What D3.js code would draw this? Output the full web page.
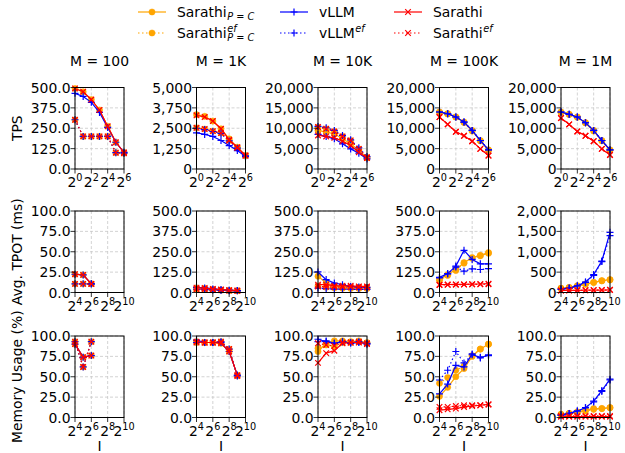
<!DOCTYPE html>
<html><head><meta charset="utf-8">
<script src="https://cdn.jsdelivr.net/npm/d3@7"></script>
<style>body{margin:0;background:#fff} text{font-family:"DejaVu Sans",sans-serif;fill:#000}</style>
</head><body><svg id="c" width="625" height="453"></svg>
<script>
// ---------------- DATA ----------------
const columns = ["M = 100", "M = 1K", "M = 10K", "M = 100K", "M = 1M"];
const rowLabels = ["TPS", "Avg. TPOT (ms)", "Memory Usage (%)"];
const xLabel = "I";
const tpsX = [1, 2, 4, 8, 16, 32, 64];
const lenX = [16, 32, 64, 128, 256, 512, 1024];
const tpsXTickExp = [0, 2, 4, 6];
const lenXTickExp = [4, 6, 8, 10];
const tpsYMax = [500, 5000, 20000, 20000, 20000];
const tpotYMax = [100, 500, 500, 500, 2000];
const memYMax = [100, 100, 100, 100, 100];
const seriesKeys = ["sarathiPC", "sarathiPCef", "vllm", "vllmEf", "sarathi", "sarathiEf"];

// TPS (row 1), one array per column, x = tpsX
const tpsSarathiPC = [
  [494, 474, 426, 362, 262, 164, 102],
  [3333, 3230, 2942, 2469, 1852, 1337, 823],
  [9465, 9053, 8642, 7407, 6173, 4527, 2716],
  [13900, 13500, 12757, 11400, 9300, 6900, 4600],
  [13900, 13400, 12700, 11300, 9300, 6900, 4600]];
const tpsSarathiPCef = [
  [302, 200, 200, 200, 200, 100, 97],
  [2530, 2449, 2325, 2202, 1749, 1296, 823],
  [10288, 9876, 9218, 7984, 6996, 4938, 2881],
  [13992, 13580, 12757, 11523, 9465, 6996, 4691],
  [13992, 13416, 12757, 11358, 9465, 6996, 4691]];
const tpsVllm = [
  [464, 445, 409, 347, 255, 164, 102],
  [2222, 2119, 1996, 1749, 1440, 1132, 761],
  [8477, 7984, 7407, 6173, 4938, 3868, 2469],
  [13992, 13580, 12757, 11523, 9465, 6996, 4691],
  [13992, 13416, 12757, 11358, 9465, 6996, 4691]];
const tpsVllmEf = [
  [302, 200, 200, 200, 200, 100, 97],
  [2500, 2420, 2300, 2180, 1720, 1280, 800],
  [10453, 10123, 9465, 8230, 7160, 5185, 3045],
  [13992, 13580, 12757, 11523, 9465, 6996, 4691],
  [13992, 13416, 12757, 11358, 9465, 6996, 4691]];
const tpsSarathi = [
  [494, 474, 426, 362, 262, 164, 102],
  [3292, 3189, 2942, 2469, 1790, 1337, 823],
  [8230, 7984, 7654, 6831, 5761, 4115, 2716],
  [12757, 10946, 9136, 8148, 6831, 4938, 3292],
  [12510, 10946, 9218, 8148, 6831, 4938, 3457]];
const tpsSarathiEf = [
  [302, 200, 200, 200, 200, 100, 97],
  [2530, 2449, 2325, 2202, 1749, 1296, 823],
  [10288, 9876, 9218, 7984, 6996, 4938, 2881],
  [12757, 10946, 9136, 8148, 6831, 4938, 3292],
  [12510, 10946, 9218, 8148, 6831, 4938, 3457]];

// Avg. TPOT (row 2), x = lenX
const tpotSarathiPC = [
  [22.4, 21.6, 10.6, null, null, null, null],
  [28, 25, 20, 16, 13, 11, null],
  [100, 58, 41, 37, 33, 31, 31],
  [79, 110, 141, 183, 214, 228, 245],
  [108, 124, 166, 207, 249, 290, 315]];
const tpotSarathiPCef = [
  [10.6, 10.6, 10.6, null, null, null, null],
  [20, 19, 17, 14, 12, 10, null],
  [40, 32, 28, 26, 25, 25, 25],
  [75, 105, 135, 180, 210, 225, 240],
  [100, 120, 160, 200, 245, 285, 310]];
const tpotVllm = [
  [22.4, 21.6, 10.6, null, null, null, null],
  [32, 28, 22, 18, 14, 12, null],
  [126, 79, 58, 48, 37, 33, 31],
  [93, 116, 162, 259, 203, 176, 176],
  [83, 108, 166, 257, 440, 772, 1477]];
const tpotVllmEf = [
  [10.6, 10.6, 10.6, null, null, null, null],
  [20, 18, 16, 13, 11, 10, null],
  [27, 23, 21, 20, 20, 19, 19],
  [89, 114, 156, 131, 145, 141, 147],
  [80, 105, 160, 250, 420, 760, 1394]];
const tpotSarathi = [
  [22.4, 21.6, 10.6, null, null, null, null],
  [30, 27, 22, 18, 14, 12, null],
  [48, 48, 41, 41, 41, 37, 37],
  [48, 49, 50, 50, 51, 52, 54],
  [50, 52, 54, 56, 58, 60, 66]];
const tpotSarathiEf = [
  [10.6, 10.6, 10.6, null, null, null, null],
  [20, 20, 18, 15, 12, 10, null],
  [37, 35, 34, 33, 33, 32, 32],
  [46, 47, 48, 49, 50, 50, 51],
  [48, 50, 52, 54, 56, 58, 62]];

// Memory Usage (row 3), x = lenX
const memSarathiPC = [
  [90, 74, 76, null, null, null, null],
  [93, 92, 92, 91, 81, 52, null],
  [81, 91, 94, 94, 93, 94, 92],
  [26, 37, 50, 60, 75, 84, 90],
  [4, 5, 7, 9, 11, 11, 12]];
const memSarathiPCef = [
  [93, 62, 93, null, null, null, null],
  [92, 92, 92, 93, 84, 51, null],
  [85, 89, 87, 92, 92, 93, 91],
  [42, 49, 58, 63, 76, 84, 90],
  [4, 5, 6, 8, 10, 11, 12]];
const memVllm = [
  [90, 74, 76, null, null, null, null],
  [95, 92, 92, 92, 81, 52, null],
  [96, 93, 91, 93, 91, 92, 91],
  [29, 41, 64, 62, 78, 73, 77],
  [3, 5, 8, 12, 20, 33, 47]];
const memVllmEf = [
  [93, 62, 93, null, null, null, null],
  [92, 92, 92, 93, 84, 51, null],
  [93, 94, 91, 93, 92, 93, 90],
  [46, 58, 81, 67, 77, 74, 76],
  [3, 5, 8, 12, 19, 32, 46]];
const memSarathi = [
  [90, 74, 76, null, null, null, null],
  [93, 92, 92, 91, 81, 52, null],
  [67, 79, 82, 91, 92, 92, 91],
  [9, 10, 11, 13, 14, 15, 16],
  [1, 1, 1, 1, 1, 1, 1]];
const memSarathiEf = [
  [93, 62, 93, null, null, null, null],
  [92, 92, 92, 93, 84, 51, null],
  [91, 89, 88, 92, 92, 93, 90],
  [13, 13, 14, 15, 15, 15, 16],
  [2, 2, 2, 2, 2, 2, 2]];

// ---------------- STYLE / LAYOUT ----------------
const FS = 13.9;
const colLeft = [75, 196.5, 318, 439.5, 561];
const plotW = 49;
const rowTop = [87.5, 211, 336];
const plotH = 81.5;
const styles = {
  sarathiPC:   {color: "#ffa500", dash: null, marker: "o"},
  sarathiPCef: {color: "#ffa500", dash: "1.5,2.5", marker: "o"},
  vllm:        {color: "#0000ff", dash: null, marker: "+"},
  vllmEf:      {color: "#0000ff", dash: "1.5,2.5", marker: "+"},
  sarathi:     {color: "#ff0000", dash: null, marker: "x"},
  sarathiEf:   {color: "#ff0000", dash: "1.5,2.5", marker: "x"}
};
const rows = [
  {x: tpsX, ticks: tpsXTickExp, max: tpsYMax,
   data: [tpsSarathiPC, tpsSarathiPCef, tpsVllm, tpsVllmEf, tpsSarathi, tpsSarathiEf]},
  {x: lenX, ticks: lenXTickExp, max: tpotYMax,
   data: [tpotSarathiPC, tpotSarathiPCef, tpotVllm, tpotVllmEf, tpotSarathi, tpotSarathiEf]},
  {x: lenX, ticks: lenXTickExp, max: memYMax,
   data: [memSarathiPC, memSarathiPCef, memVllm, memVllmEf, memSarathi, memSarathiEf]}
];

const svg = d3.select("#c");

function drawMarker(g, type, color) {
  if (type === "o") {
    g.append("circle").attr("r", 3.1).attr("fill", color).attr("stroke", color).attr("stroke-width", 0.5);
  } else if (type === "+") {
    g.append("path").attr("d", "M-3.5,0H3.5M0,-3.5V3.5").attr("stroke", color).attr("stroke-width", 1.2).attr("fill", "none");
  } else {
    g.append("path").attr("d", "M-2.8,-2.8L2.8,2.8M-2.8,2.8L2.8,-2.8").attr("stroke", color).attr("stroke-width", 1.2).attr("fill", "none");
  }
}

function powLabel(sel, exp) {
  sel.append("tspan").text("2").attr("font-size", FS);
  sel.append("tspan").text(String(exp)).attr("font-size", FS * 0.7).attr("dy", -6);
}

rows.forEach((row, ri) => {
  columns.forEach((colName, ci) => {
    const x0 = colLeft[ci], y0 = rowTop[ri];
    const xs = d3.scaleLog().base(2).domain([row.x[0], row.x[row.x.length - 1]]).range([x0, x0 + plotW]);
    const ymax = row.max[ci];
    const ys = d3.scaleLinear().domain([0, ymax]).range([y0 + plotH, y0]);
    const yTicks = d3.range(5).map(i => ymax * i / 4);
    const fmt = ymax >= 1000 ? d3.format(",d") : d3.format(".1f");
    const g = svg.append("g");
    // grid
    g.selectAll(".gx").data(row.ticks).enter().append("line")
      .attr("x1", d => xs(Math.pow(2, d))).attr("x2", d => xs(Math.pow(2, d)))
      .attr("y1", y0).attr("y2", y0 + plotH)
      .attr("stroke", "#c8c8c8").attr("stroke-width", 0.8).attr("stroke-dasharray", "3,2");
    g.selectAll(".gy").data(yTicks).enter().append("line")
      .attr("y1", d => ys(d)).attr("y2", d => ys(d))
      .attr("x1", x0).attr("x2", x0 + plotW)
      .attr("stroke", "#c8c8c8").attr("stroke-width", 0.8).attr("stroke-dasharray", "3,2");
    // clip
    const clipId = `clip${ri}_${ci}`;
    svg.append("clipPath").attr("id", clipId).append("rect")
      .attr("x", x0 - 4).attr("y", y0 - 4).attr("width", plotW + 8).attr("height", plotH + 8);
    const pg = g.append("g").attr("clip-path", `url(#${clipId})`);
    seriesKeys.forEach((key, si) => {
      const vals = row.data[si][ci];
      const pts = vals.map((v, i) => [row.x[i], v]).filter(p => p[1] != null);
      const st = styles[key];
      pg.append("path").datum(pts)
        .attr("d", d3.line().x(d => xs(d[0])).y(d => ys(d[1])))
        .attr("fill", "none").attr("stroke", st.color).attr("stroke-width", 1.2)
        .attr("stroke-dasharray", st.dash);
      pts.forEach(p => {
        const mg = pg.append("g").attr("transform", `translate(${xs(p[0])},${ys(p[1])})`);
        drawMarker(mg, st.marker, st.color);
      });
    });
    // frame
    g.append("rect").attr("x", x0).attr("y", y0).attr("width", plotW).attr("height", plotH)
      .attr("fill", "none").attr("stroke", "#000").attr("stroke-width", 1);
    // y ticks
    yTicks.forEach(t => {
      g.append("line").attr("x1", x0 - 4.5).attr("x2", x0).attr("y1", ys(t)).attr("y2", ys(t))
        .attr("stroke", "#000").attr("stroke-width", 0.8);
      g.append("text").attr("x", x0 - 4.5).attr("y", ys(t)).attr("dy", "0.36em")
        .attr("text-anchor", "end").attr("font-size", FS).text(fmt(t));
    });
    // x ticks
    row.ticks.forEach(e => {
      const xp = xs(Math.pow(2, e));
      g.append("line").attr("x1", xp).attr("x2", xp).attr("y1", y0 + plotH).attr("y2", y0 + plotH + 4.5)
        .attr("stroke", "#000").attr("stroke-width", 0.8);
      const t = g.append("text").attr("x", xp).attr("y", y0 + plotH + 18).attr("text-anchor", "middle");
      powLabel(t, e);
    });
    if (ri === 0) {
      svg.append("text").attr("x", x0 + plotW / 2).attr("y", 66).attr("text-anchor", "middle")
        .attr("font-size", FS).text(colName);
    }
    if (ri === 2) {
      svg.append("text").attr("x", x0 + plotW / 2).attr("y", 451).attr("text-anchor", "middle")
        .attr("font-size", FS).text(xLabel);
    }
    if (ci === 0) {
      svg.append("text").attr("transform", `translate(22,${y0 + plotH / 2}) rotate(-90)`)
        .attr("text-anchor", "middle").attr("font-size", FS).text(rowLabels[ri]);
    }
  });
});

// ---------------- LEGEND ----------------
const legendPos = {
  sarathiPC: [138, 12], sarathiPCef: [138, 33],
  vllm: [280, 12], vllmEf: [280, 33],
  sarathi: [394, 12], sarathiEf: [394, 33]
};
const legendText = {
  sarathiPC: ["Sarathi", null, "P = C"],
  sarathiPCef: ["Sarathi", "ef", "P = C"],
  vllm: ["vLLM", null, null],
  vllmEf: ["vLLM", "ef", null],
  sarathi: ["Sarathi", null, null],
  sarathiEf: ["Sarathi", "ef", null]
};
seriesKeys.forEach(key => {
  const [lx, ly] = legendPos[key];
  const st = styles[key];
  const lg = svg.append("g");
  lg.append("line").attr("x1", lx).attr("x2", lx + 28).attr("y1", ly).attr("y2", ly)
    .attr("stroke", st.color).attr("stroke-width", 1.2).attr("stroke-dasharray", st.dash);
  drawMarker(lg.append("g").attr("transform", `translate(${lx + 14},${ly})`), st.marker, st.color);
  const [main, sup, sub] = legendText[key];
  const tx = lx + 39;
  const t = lg.append("text").attr("x", tx).attr("y", ly + 5).attr("font-size", FS).text(main);
  const w = t.node().getComputedTextLength();
  if (sup) {
    lg.append("text").attr("x", tx + w + 0.5).attr("y", ly - 1).attr("font-size", FS * 0.7)
      .attr("font-style", "italic").text(sup);
  }
  if (sub) {
    const s = lg.append("text").attr("x", tx + w + 0.5).attr("y", ly + 8).attr("font-size", FS * 0.7);
    s.append("tspan").attr("font-style", "italic").text("P");
    s.append("tspan").text(" = ");
    s.append("tspan").attr("font-style", "italic").text("C");
  }
});
</script>
</body></html>
